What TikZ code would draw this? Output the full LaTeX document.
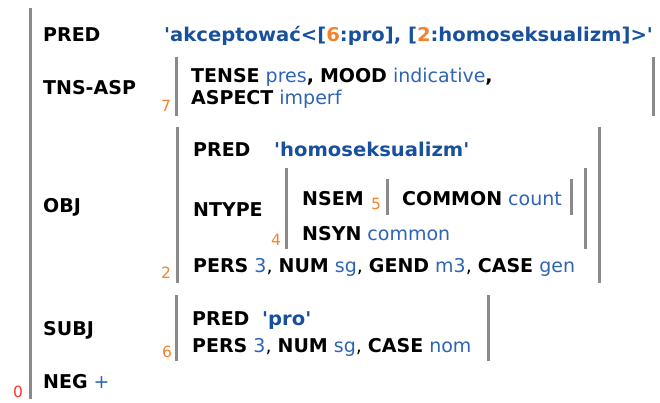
\documentclass[tikz,border=0pt]{standalone}
\usepackage{fontspec}
\setmainfont[Ligatures=TeXReset]{DejaVu Sans}
\definecolor{valblue}{RGB}{46,100,184}
\definecolor{predblue}{RGB}{24,80,158}
\definecolor{idxorange}{RGB}{245,130,45}
\definecolor{rootred}{RGB}{255,50,50}
\definecolor{bargray}{RGB}{138,138,138}
\newcommand{\lb}[1]{\textbf{#1}}
\newcommand{\vl}[1]{\textcolor{valblue}{#1}}
\newcommand{\cm}{\textmd{,}}
\newcommand{\widentext}[1]{\scalebox{1.03}[1]{#1}}
\tikzset{
  txt/.style={inner sep=0pt, anchor=base west, font=\fontsize{19}{22}\selectfont},
  lab/.style={txt, font=\fontsize{19}{22}\selectfont\bfseries},
  pval/.style={txt, font=\fontsize{19}{22}\selectfont\bfseries, text=predblue},
  idx/.style={inner sep=0pt, anchor=base west, font=\fontsize{15.5}{17}\selectfont, text=idxorange},
  bar/.style={draw=bargray, line width=3pt}
}
\begin{document}
\begin{tikzpicture}[x=1pt,y=-1pt]
\useasboundingbox (0,0) rectangle (660,403);
% outer structure
\coordinate (o1) at (30,8); \coordinate (o2) at (30,399);
\draw[bar] (o1) -- (o2);
\node[idx, text=rootred] (i0) at (13,397) {0};
\node[lab] (pred) at (43,42) {PRED};
\node[pval] (predv) at (164,42) {\widentext{'akceptować<[\textcolor{idxorange}{6}:pro], [\textcolor{idxorange}{2}:homoseksualizm]>'}};
% TNS-ASP
\node[lab] (tns) at (43,95) {TNS-ASP};
\coordinate (t1) at (176,57); \coordinate (t2) at (176,116);
\coordinate (t3) at (653,57); \coordinate (t4) at (653,116);
\draw[bar] (t1) -- (t2); \draw[bar] (t3) -- (t4);
\node[idx] (i7) at (161,112) {7};
\node[txt] (tl1) at (191,83) {\lb{TENSE} \vl{pres}\lb{,} \lb{MOOD} \vl{indicative}\lb{,}};
\node[txt] (tl2) at (191,105) {\lb{ASPECT} \vl{imperf}};
% OBJ
\node[lab] (obj) at (43,212) {OBJ};
\coordinate (b1) at (177,127); \coordinate (b2) at (177,283);
\coordinate (b3) at (599,127); \coordinate (b4) at (599,283);
\draw[bar] (b1) -- (b2); \draw[bar] (b3) -- (b4);
\node[idx] (i2) at (161,278) {2};
\node[lab] (opred) at (193,157) {PRED};
\node[pval] (opredv) at (274,157) {\widentext{'homoseksualizm'}};
\node[lab] (ntype) at (193,216) {NTYPE};
\coordinate (n1) at (286,168); \coordinate (n2) at (286,249);
\coordinate (n3) at (585,168); \coordinate (n4) at (585,249);
\draw[bar] (n1) -- (n2); \draw[bar] (n3) -- (n4);
\node[idx] (i4) at (271,245) {4};
\node[lab] (nsem) at (302,205) {NSEM};
\node[idx] (i5) at (371,210) {5};
\coordinate (s1) at (387,179); \coordinate (s2) at (387,215);
\coordinate (s3) at (571,179); \coordinate (s4) at (571,215);
\draw[bar] (s1) -- (s2); \draw[bar] (s3) -- (s4);
\node[txt] (common) at (402,205) {\lb{COMMON} \vl{count}};
\node[txt] (nsyn) at (302,240) {\lb{NSYN} \vl{common}};
\node[txt] (opers) at (193,272) {\lb{PERS} \vl{3}\cm{} \lb{NUM} \vl{sg}\cm{} \lb{GEND} \vl{m3}\cm{} \lb{CASE} \vl{gen}};
% SUBJ
\node[lab] (subj) at (43,335) {SUBJ};
\coordinate (u1) at (176,295); \coordinate (u2) at (176,361);
\coordinate (u3) at (488,295); \coordinate (u4) at (488,361);
\draw[bar] (u1) -- (u2); \draw[bar] (u3) -- (u4);
\node[idx] (i6) at (162,357) {6};
\node[lab] (spred) at (192,325) {PRED};
\node[pval] (spredv) at (262,325) {\widentext{'pro'}};
\node[txt] (spers) at (192,352) {\lb{PERS} \vl{3}\cm{} \lb{NUM} \vl{sg}\cm{} \lb{CASE} \vl{nom}};
% NEG
\node[txt] (neg) at (43,388) {\lb{NEG} \vl{+}};
\end{tikzpicture}
\end{document}
